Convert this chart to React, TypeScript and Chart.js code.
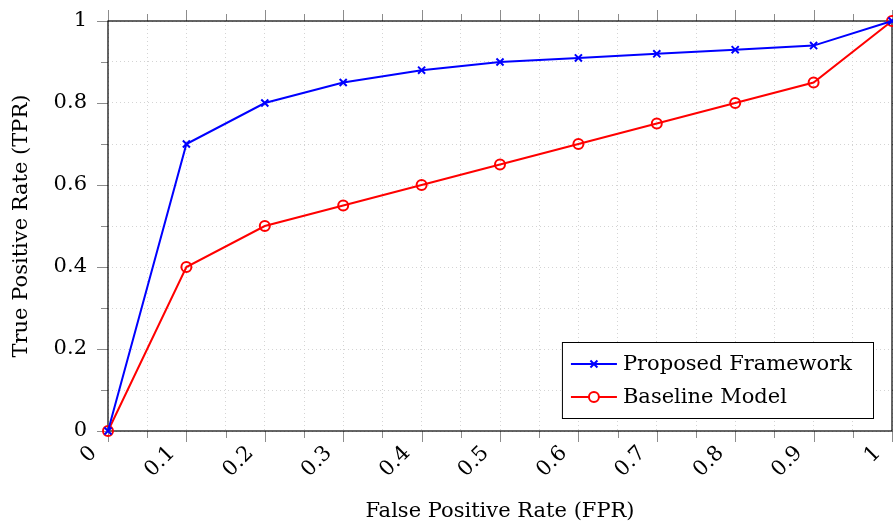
import React, { useEffect, useRef } from "react";
import { Chart, registerables } from "chart.js";

Chart.register(...registerables);

const fprValues = [0, 0.1, 0.2, 0.3, 0.4, 0.5, 0.6, 0.7, 0.8, 0.9, 1.0];
const proposedTPR = [0, 0.7, 0.8, 0.85, 0.88, 0.9, 0.91, 0.92, 0.93, 0.94, 1.0];
const baselineTPR = [0, 0.4, 0.5, 0.55, 0.6, 0.65, 0.7, 0.75, 0.8, 0.85, 1.0];
const seriesLabels = ["Proposed Framework", "Baseline Model"];
const xTitle = "False Positive Rate (FPR)";
const yTitle = "True Positive Rate (TPR)";

const FONT = "'DejaVu Serif', serif";

const isMajorX = (v: number) => Math.round(v * 100) % 10 === 0;
const isMajorY = (v: number) => Math.round(v * 10) % 2 === 0;

const framePlugin = {
  id: "frameTicks",
  beforeDatasetsDraw(chart: any) {
    const { ctx, chartArea: a, scales } = chart;
    ctx.save();
    ctx.strokeStyle = "#8c8c8c";
    ctx.lineWidth = 1;
    ctx.setLineDash([]);
    const xs = scales.x;
    xs.ticks.forEach((t: any) => {
      const px = Math.round(xs.getPixelForValue(t.value)) + 0.5;
      const len = isMajorX(t.value) ? 11 : 7;
      ctx.beginPath();
      ctx.moveTo(px, a.bottom);
      ctx.lineTo(px, a.bottom + len);
      ctx.moveTo(px, a.top);
      ctx.lineTo(px, a.top - len);
      ctx.stroke();
    });
    const ys = scales.y;
    ys.ticks.forEach((t: any) => {
      const py = Math.round(ys.getPixelForValue(t.value)) + 0.5;
      const len = isMajorY(t.value) ? 11 : 7;
      ctx.beginPath();
      ctx.moveTo(a.left, py);
      ctx.lineTo(a.left - len, py);
      ctx.moveTo(a.right, py);
      ctx.lineTo(a.right + len, py);
      ctx.stroke();
    });
    ctx.strokeStyle = "#000";
    ctx.lineWidth = 1.2;
    ctx.strokeRect(a.left, a.top, a.right - a.left, a.bottom - a.top);
    ctx.restore();
  },
};

const legendPlugin = {
  id: "boxLegend",
  afterDatasetsDraw(chart: any) {
    const { ctx, chartArea: a } = chart;
    const ds = chart.data.datasets;
    ctx.save();
    ctx.font = `21px ${FONT}`;
    let maxW = 0;
    ds.forEach((d: any) => {
      maxW = Math.max(maxW, ctx.measureText(d.label).width);
    });
    const padL = 9, sample = 46, gap = 6, padR = 21;
    const right = a.right - 19;
    const bottom = a.bottom - 13;
    const h = 76;
    const w = padL + sample + gap + maxW + padR;
    const left = right - w;
    const top = bottom - h;
    ctx.fillStyle = "#fff";
    ctx.fillRect(left, top, w, h);
    ctx.strokeStyle = "#000";
    ctx.lineWidth = 1;
    ctx.strokeRect(left + 0.5, top + 0.5, w, h);
    const rows = [bottom - 54, bottom - 21];
    ds.forEach((d: any, i: number) => {
      const y = rows[i];
      const x0 = left + padL;
      ctx.strokeStyle = d.borderColor;
      ctx.lineWidth = 2;
      ctx.beginPath();
      ctx.moveTo(x0, y);
      ctx.lineTo(x0 + sample, y);
      ctx.stroke();
      const cx = x0 + sample / 2;
      ctx.beginPath();
      if (d.pointStyle === "crossRot") {
        const r = 3.5;
        ctx.moveTo(cx - r, y - r);
        ctx.lineTo(cx + r, y + r);
        ctx.moveTo(cx + r, y - r);
        ctx.lineTo(cx - r, y + r);
      } else {
        ctx.fillStyle = "#fff";
        ctx.arc(cx, y, 5, 0, Math.PI * 2);
        ctx.fill();
      }
      ctx.stroke();
      ctx.fillStyle = "#000";
      ctx.textAlign = "left";
      ctx.textBaseline = "middle";
      ctx.fillText(d.label, x0 + sample + gap, y + 1);
    });
    ctx.restore();
  },
};

export default function App() {
  const ref = useRef<HTMLCanvasElement>(null);
  useEffect(() => {
    if (!ref.current) return;
    const chart = new Chart(ref.current, {
      type: "line",
      data: {
        datasets: [
          {
            label: seriesLabels[0],
            data: fprValues.map((x, i) => ({ x, y: proposedTPR[i] })),
            borderColor: "#0000ff",
            backgroundColor: "#0000ff",
            borderWidth: 2,
            pointStyle: "crossRot",
            pointRadius: 5,
            pointBorderWidth: 2,
            pointBorderColor: "#0000ff",
            tension: 0,
            clip: false,
          },
          {
            label: seriesLabels[1],
            data: fprValues.map((x, i) => ({ x, y: baselineTPR[i] })),
            borderColor: "#ff0000",
            backgroundColor: "#ff0000",
            borderWidth: 2,
            pointStyle: "circle",
            pointRadius: 5,
            pointBorderWidth: 2,
            pointBorderColor: "#ff0000",
            pointBackgroundColor: "rgba(255,255,255,0)",
            tension: 0,
            clip: false,
          },
        ],
      },
      options: {
        responsive: false,
        animation: false,
        devicePixelRatio: 1,
        layout: { autoPadding: false, padding: { top: 21, right: 1, bottom: 0, left: 0 } },
        plugins: {
          legend: { display: false },
          tooltip: { enabled: false },
        },
        scales: {
          x: {
            type: "linear",
            min: 0,
            max: 1,
            afterFit(scale: any) {
              scale.height = 96;
              scale.paddingLeft = 0;
              scale.paddingRight = 0;
              scale.paddingTop = 0;
              scale.paddingBottom = 0;
            },
            ticks: {
              stepSize: 0.05,
              autoSkip: false,
              minRotation: 45,
              maxRotation: 45,
              padding: 10,
              labelOffset: -14.5,
              color: "#000",
              font: { family: FONT, size: 21 },
              callback: (v: any) => (isMajorX(v) ? String(Math.round(v * 10) / 10) : ""),
            },
            grid: { color: "#d4d4d4", lineWidth: 1, drawTicks: false },
            border: { display: false, dash: [1, 3] },
            title: {
              display: true,
              text: xTitle,
              color: "#000",
              font: { family: FONT, size: 21 },
              padding: { top: 0, bottom: 3 },
            },
          },
          y: {
            type: "linear",
            min: 0,
            max: 1,
            afterFit(scale: any) {
              scale.width = 108;
              scale.paddingTop = 0;
              scale.paddingBottom = 0;
              scale.paddingLeft = 0;
              scale.paddingRight = 0;
            },
            ticks: {
              stepSize: 0.1,
              autoSkip: false,
              padding: 21,
              color: "#000",
              font: { family: FONT, size: 21 },
              callback: (v: any) => (isMajorY(v) ? String(Math.round(v * 10) / 10) : ""),
            },
            grid: { color: "#d4d4d4", lineWidth: 1, drawTicks: false },
            border: { display: false, dash: [1, 3] },
            title: {
              display: true,
              text: yTitle,
              color: "#000",
              font: { family: FONT, size: 21 },
              padding: { top: 9, bottom: 0 },
            },
          },
        },
      },
      plugins: [framePlugin, legendPlugin],
    } as any);
    return () => chart.destroy();
  }, []);
  return (
    <div style={{ position: "fixed", left: 0, top: 0, width: 893, height: 527, overflow: "hidden", background: "#fff" }}>
      <canvas ref={ref} width={893} height={527} style={{ width: 893, height: 527, display: "block" }} />
    </div>
  );
}
